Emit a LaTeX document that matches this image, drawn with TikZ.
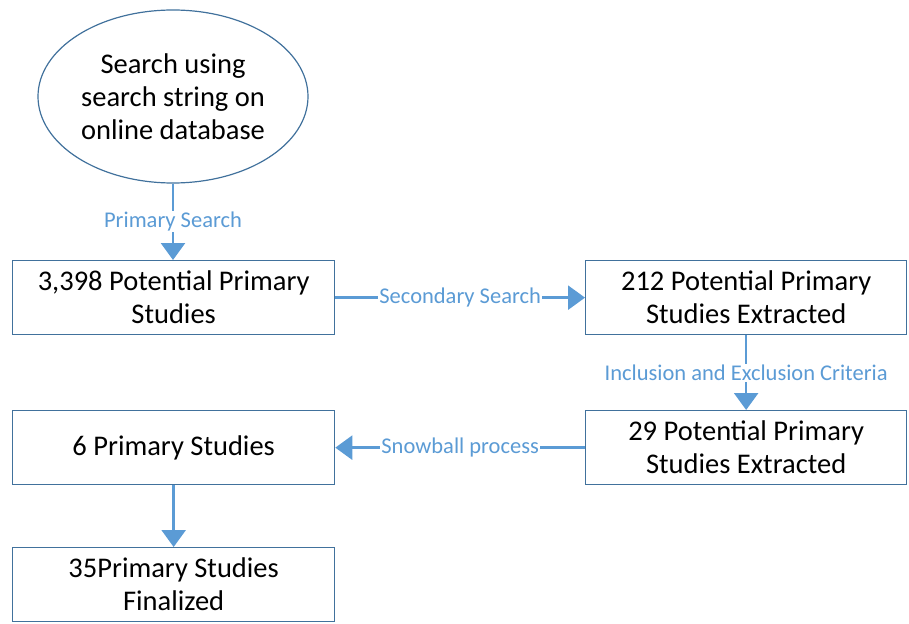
\documentclass[tikz,border=0pt]{standalone}
\usepackage{fontspec}
\setmainfont{Carlito}
\usetikzlibrary{arrows.meta,shapes.geometric}
\definecolor{boxline}{HTML}{41719C}
\definecolor{flow}{HTML}{5B9BD5}
\begin{document}
\begin{tikzpicture}[x=1pt,y=-1pt,
  stage/.style={draw=boxline,line width=1.3pt,fill=white,minimum width=322pt,minimum height=74pt,
    align=center,font=\fontsize{28.5}{33}\selectfont,inner sep=0pt,anchor=north west},
  flowarrow/.style={draw=flow,line width=2.6pt,-{Triangle[width=24pt,length=17pt]}},
  flowlabel/.style={fill=white,text=flow,font=\fontsize{22.5}{26}\selectfont,inner sep=1pt}]
\useasboundingbox (0,0) rectangle (909,623);
% start of the search
\node[ellipse,draw=boxline,line width=1.2pt,minimum width=270pt,minimum height=173pt,
  align=center,font=\fontsize{28.5}{33}\selectfont] (search) at (173,96.5)
  {Search using\\search string on\\online database};
% stages
\node[stage] (potential) at (12,260) {3,398 Potential Primary\\Studies};
\node[stage,minimum width=321pt] (extracted) at (585,260) {212 Potential Primary\\Studies Extracted};
\node[stage,minimum width=321pt] (screened) at (585,410) {29 Potential Primary\\Studies Extracted};
\node[stage] (primary) at (12,410) {6 Primary Studies};
\node[stage] (final) at (12,547) {35Primary Studies\\Finalized};
% connectors
\draw[flowarrow] (search.south) -- node[flowlabel,pos=0.5]{Primary Search} (search.south |- potential.north);
\draw[flowarrow] (potential.east) -- node[flowlabel,pos=0.5]{Secondary Search} (extracted.west);
\draw[flowarrow] (extracted.south) -- node[flowlabel,pos=0.5]{Inclusion and Exclusion Criteria} (screened.north);
\draw[flowarrow] (screened.west) -- node[flowlabel,pos=0.5]{Snowball process} (primary.east);
\draw[flowarrow] (primary.south) -- (final.north);
\end{tikzpicture}
\end{document}
